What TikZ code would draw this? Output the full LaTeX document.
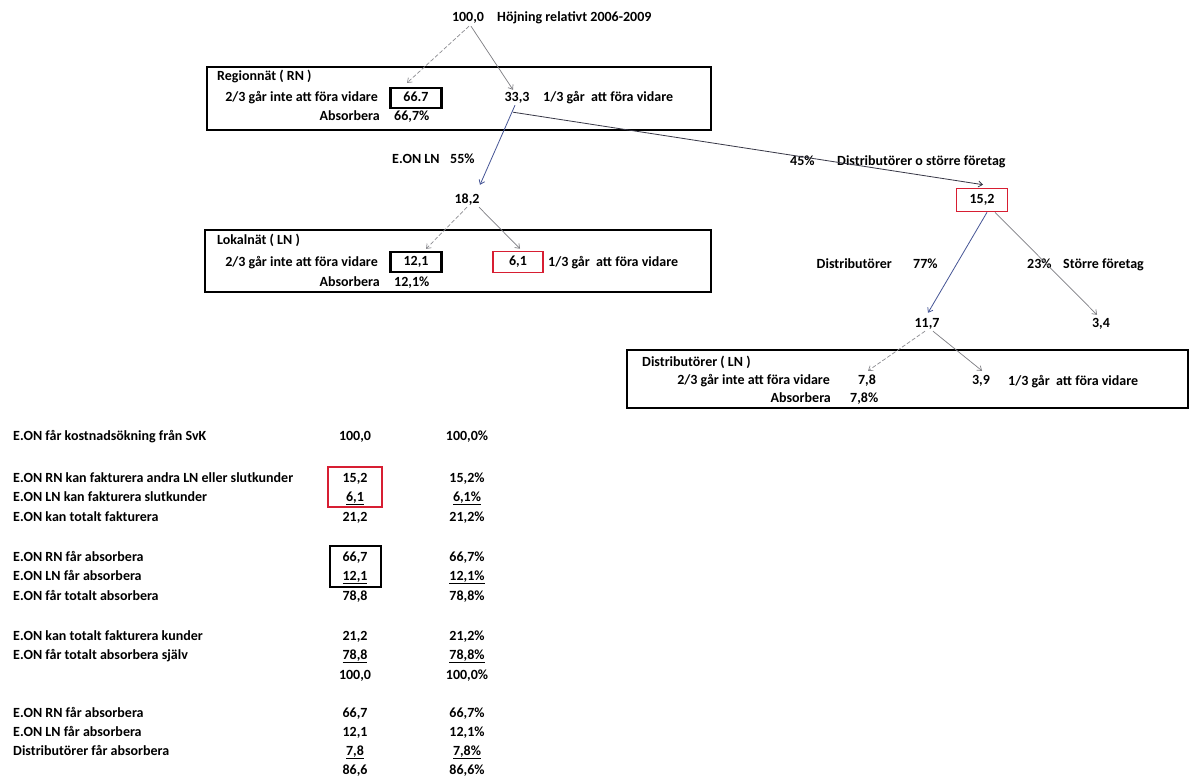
\documentclass[tikz,border=0pt]{standalone}
\usepackage{fontspec}
\setmainfont{Carlito}
\usetikzlibrary{arrows.meta}
\definecolor{arrgrey}{RGB}{125,125,130}
\definecolor{arrlight}{RGB}{140,140,145}
\definecolor{arrblue}{RGB}{70,85,150}
\definecolor{arrdark}{RGB}{55,55,70}
\definecolor{boxred}{RGB}{215,30,50}
\begin{document}
\begin{tikzpicture}[x=1pt,y=-1pt,
  every node/.style={font=\fontsize{14}{16}\selectfont\bfseries, inner sep=1pt, text height=9pt, text depth=3pt},
  lt/.style={anchor=west}, rt/.style={anchor=east}, ct/.style={anchor=center},
  panel/.style={draw, line width=1.6pt, inner sep=0pt},
  valbox/.style={draw, line width=2.2pt, minimum width=51pt, minimum height=20pt, inner sep=0pt},
  redval/.style={draw=boxred, line width=1.6pt, minimum width=50pt, minimum height=21pt, inner sep=0pt},
  tip/.style={-{Straight Barb[length=4pt,width=6pt]}},
  garr/.style={tip, draw=arrgrey, line width=0.7pt},
  darr/.style={tip, draw=arrlight, line width=0.7pt, dash pattern=on 4pt off 2pt},
  barr/.style={tip, draw=arrblue, line width=0.8pt},
  karr/.style={tip, draw=arrdark, line width=0.8pt}
]
\fill[white] (0,0) rectangle (1190,776);
\path[use as bounding box] (0,0) rectangle (1190,776);

% ---- top
\node[ct] (n100) at (468,19) {100,0};
\node[lt] (ttl) at (496,19) {Höjning relativt 2006-2009};

% ---- Regionnät
\node[panel, minimum width=504pt, minimum height=63pt] (RN) at (459,98.5) {};
\node[lt] (RNl) at (216,78) {Regionnät ( RN )};
\node[rt] (RNa) at (379,98) {2/3 går inte att föra vidare};
\node[valbox] (b667) at (416,98) {66.7};
\node[rt] (RNb) at (381,117) {Absorbera};
\node[lt] (RNc) at (393,117) {66,7\%};
\node[ct] (n333) at (517,98) {33,3};
\node[lt] (RNd) at (542,98) {1/3 går\ \ att föra vidare};

\node[lt] (eon) at (391,160) {E.ON LN};
\node[lt] (p55) at (449,160) {55\%};
\node[lt] (p45) at (789,162) {45\%};
\node[lt] (dos) at (836,162) {Distributörer o större företag};

% ---- Lokalnät
\node[ct] (n182) at (467,200) {18,2};
\node[panel, minimum width=506pt, minimum height=62pt] (LN) at (458,261) {};
\node[lt] (LNl) at (216,241) {Lokalnät ( LN )};
\node[rt] (LNa) at (379,263) {2/3 går inte att föra vidare};
\node[valbox] (b121) at (416,262) {12,1};
\node[redval] (r61) at (518,262) {6,1};
\node[lt] (LNd) at (547,263) {1/3 går\ \ att föra vidare};
\node[rt] (LNb) at (381,283) {Absorbera};
\node[lt] (LNc) at (393,283) {12,1\%};

% ---- right branch
\node[redval, minimum width=51pt, minimum height=23pt] (r152) at (982,200) {15,2};
\node[rt] (dst) at (893,265) {Distributörer};
\node[lt] (p77) at (912,265) {77\%};
\node[lt] (p23) at (1026,265) {23\%};
\node[lt] (sft) at (1062,265) {Större företag};
\node[ct] (n117) at (927,324) {11,7};
\node[ct] (n34) at (1101,324) {3,4};

% ---- Distributörer
\node[panel, minimum width=561pt, minimum height=58pt] (DL) at (907.5,379) {};
\node[lt] (DLl) at (641,363) {Distributörer ( LN )};
\node[rt] (DLa) at (831,381) {2/3 går inte att föra vidare};
\node[ct] (n78) at (867,381) {7,8};
\node[ct] (n39) at (981,381) {3,9};
\node[lt] (DLd) at (1007,382) {1/3 går\ \ att föra vidare};
\node[rt] (DLb) at (832,399) {Absorbera};
\node[lt] (DLc) at (849,399) {7,8\%};

% ---- connectors
\draw[darr] ([xshift=1pt]n100.south) -- ([xshift=-9pt,yshift=4pt]b667.north);
\draw[garr] ([xshift=3pt]n100.south) -- ([xshift=-4pt,yshift=1pt]n333.north);
\draw[barr] ([xshift=-2pt]n333.south) -- ([xshift=13pt,yshift=8pt]n182.north);
\draw[karr] ([xshift=-4pt,yshift=-7pt]n333.south) -- ([xshift=1pt,yshift=3pt]r152.north);
\draw[darr] (n182.south) -- ([xshift=10pt,yshift=2pt]b121.north);
\draw[garr] ([xshift=12pt]n182.south) -- ([xshift=2pt,yshift=2pt]r61.north);
\draw[barr] ([xshift=5pt]r152.south) -- ([xshift=1pt,yshift=4pt]n117.north);
\draw[garr] ([xshift=13pt]r152.south) -- ([xshift=-4pt,yshift=2pt]n34.north);
\draw[darr] ([xshift=-2pt]n117.south) -- ([xshift=1pt,yshift=3pt]n78.north);
\draw[garr] ([xshift=6pt]n117.south) -- ([xshift=1pt,yshift=3pt]n39.north);

% ---- table
\node[lt] (t1) at (12,437) {E.ON får kostnadsökning från SvK};
\node[ct] (t1b) at (355,437) {100,0};
\node[ct] (t1c) at (467,437) {100,0\%};

\node[lt] (t2) at (12,479) {E.ON RN kan fakturera andra LN eller slutkunder};
\node[ct] (t2b) at (355,479) {15,2};
\node[ct] (t2c) at (467,479) {15,2\%};
\node[lt] (t3) at (12,498) {E.ON LN kan fakturera slutkunder};
\node[ct] (t3b) at (355,498) {\underline{6,1}};
\node[ct] (t3c) at (467,498) {\underline{6,1\%}};
\node[lt] (t4) at (12,518) {E.ON kan totalt fakturera};
\node[ct] (t4b) at (355,518) {21,2};
\node[ct] (t4c) at (467,518) {21,2\%};

\node[lt] (t5) at (12,558) {E.ON RN får absorbera};
\node[ct] (t5b) at (355,558) {66,7};
\node[ct] (t5c) at (467,558) {66,7\%};
\node[lt] (t6) at (12,577) {E.ON LN får absorbera};
\node[ct] (t6b) at (355,577) {\underline{12,1}};
\node[ct] (t6c) at (467,577) {\underline{12,1\%}};
\node[lt] (t7) at (12,597) {E.ON får totalt absorbera};
\node[ct] (t7b) at (355,597) {78,8};
\node[ct] (t7c) at (467,597) {78,8\%};

\node[lt] (t8) at (12,637) {E.ON kan totalt fakturera kunder};
\node[ct] (t8b) at (355,637) {21,2};
\node[ct] (t8c) at (467,637) {21,2\%};
\node[lt] (t9) at (12,656) {E.ON får totalt absorbera själv};
\node[ct] (t9b) at (355,656) {\underline{78,8}};
\node[ct] (t9c) at (467,656) {\underline{78,8\%}};
\node[ct] (t10b) at (355,676) {100,0};
\node[ct] (t10c) at (467,676) {100,0\%};

\node[lt] (t11) at (12,714) {E.ON RN får absorbera};
\node[ct] (t11b) at (355,714) {66,7};
\node[ct] (t11c) at (467,714) {66,7\%};
\node[lt] (t12) at (12,733) {E.ON LN får absorbera};
\node[ct] (t12b) at (355,733) {12,1};
\node[ct] (t12c) at (467,733) {12,1\%};
\node[lt] (t13) at (12,752) {Distributörer får absorbera};
\node[ct] (t13b) at (355,752) {\underline{7,8}};
\node[ct] (t13c) at (467,752) {\underline{7,8\%}};
\node[ct] (t14b) at (355,771) {86,6};
\node[ct] (t14c) at (467,771) {86,6\%};

\node[draw=boxred, line width=1.6pt, minimum width=54pt, minimum height=40pt, inner sep=0pt] (redT) at (355,487) {};
\node[draw, line width=2.4pt, minimum width=51pt, minimum height=41pt, inner sep=0pt] (blkT) at (355.5,566.5) {};
\end{tikzpicture}
\end{document}
